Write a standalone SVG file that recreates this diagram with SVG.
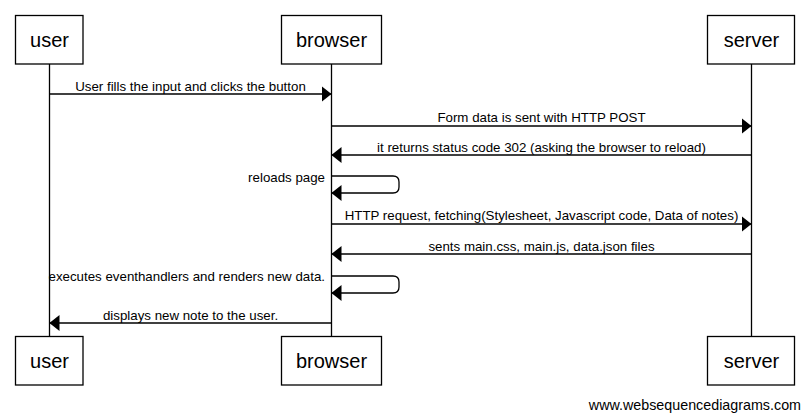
<svg xmlns="http://www.w3.org/2000/svg" width="809" height="419" viewBox="0 0 809 419">
<style>
.actor rect{fill:#fff;stroke:#000;stroke-width:1.3}
.actor text{font-family:"Liberation Sans",Arial,sans-serif;font-size:20px;text-anchor:middle;fill:#000}
.life{stroke:#000;stroke-width:1.3}
.msg{stroke:#000;stroke-width:1.3;fill:none}
.lbl{font-family:"Liberation Sans",Arial,sans-serif;font-size:13.3px;fill:#000;text-anchor:middle}
.lblr{font-family:"Liberation Sans",Arial,sans-serif;font-size:13.3px;fill:#000;text-anchor:end}
</style>
<defs>
<marker id="ah" viewBox="0 0 10 16" refX="10" refY="8" markerWidth="10" markerHeight="16" markerUnits="userSpaceOnUse" orient="auto">
<path d="M0,0 L10,8 L0,16 Z" fill="#000"/>
</marker>
</defs>
<rect width="809" height="419" fill="#fff"/>
<g id="lifelines">
<line class="life" x1="49.5" y1="64" x2="49.5" y2="336"/>
<line class="life" x1="331.5" y1="64" x2="331.5" y2="336"/>
<line class="life" x1="751.5" y1="64" x2="751.5" y2="336"/>
</g>
<g id="user-top" class="actor"><rect x="15.5" y="15.5" width="67.5" height="48.5"/><text x="49.5" y="47">user</text></g>
<g id="browser-top" class="actor"><rect x="281.5" y="15.5" width="100" height="48.5"/><text x="331.5" y="47">browser</text></g>
<g id="server-top" class="actor"><rect x="707.5" y="15.5" width="87" height="48.5"/><text x="751.5" y="47">server</text></g>
<g id="user-bottom" class="actor"><rect x="15.5" y="336.5" width="67.5" height="48.5"/><text x="49.5" y="368">user</text></g>
<g id="browser-bottom" class="actor"><rect x="281.5" y="336.5" width="100" height="48.5"/><text x="331.5" y="368">browser</text></g>
<g id="server-bottom" class="actor"><rect x="707.5" y="336.5" width="87" height="48.5"/><text x="751.5" y="368">server</text></g>
<g id="connectors">
<line class="msg" x1="49.5" y1="94" x2="331.5" y2="94" marker-end="url(#ah)"/>
<text class="lbl" x="190.5" y="91">User fills the input and clicks the button</text>
<line class="msg" x1="331.5" y1="126" x2="751.5" y2="126" marker-end="url(#ah)"/>
<text class="lbl" x="541.5" y="122">Form data is sent with HTTP POST</text>
<line class="msg" x1="751.5" y1="155" x2="331.5" y2="155" marker-end="url(#ah)"/>
<text class="lbl" x="541.5" y="152">it returns status code 302 (asking the browser to reload)</text>
<path class="msg" d="M331.5,176 L393,176 Q399,176 399,182 L399,187 Q399,193 393,193 L331.5,193" marker-end="url(#ah)"/>
<text class="lblr" x="325" y="182">reloads page</text>
<line class="msg" x1="331.5" y1="224" x2="751.5" y2="224" marker-end="url(#ah)"/>
<text class="lbl" x="541.5" y="220">HTTP request, fetching(Stylesheet, Javascript code, Data of notes)</text>
<line class="msg" x1="751.5" y1="254" x2="331.5" y2="254" marker-end="url(#ah)"/>
<text class="lbl" x="541.5" y="251">sents main.css, main.js, data.json files</text>
<path class="msg" d="M331.5,276 L393,276 Q399,276 399,282 L399,287 Q399,293 393,293 L331.5,293" marker-end="url(#ah)"/>
<text class="lblr" x="325" y="281">executes eventhandlers and renders new data.</text>
<line class="msg" x1="331.5" y1="323" x2="49.5" y2="323" marker-end="url(#ah)"/>
<text class="lbl" x="190.5" y="320">displays new note to the user.</text>
</g>
<text x="801" y="410" font-family="Liberation Sans,Arial,sans-serif" font-size="14.3" text-anchor="end" fill="#000">www.websequencediagrams.com</text>
</svg>
